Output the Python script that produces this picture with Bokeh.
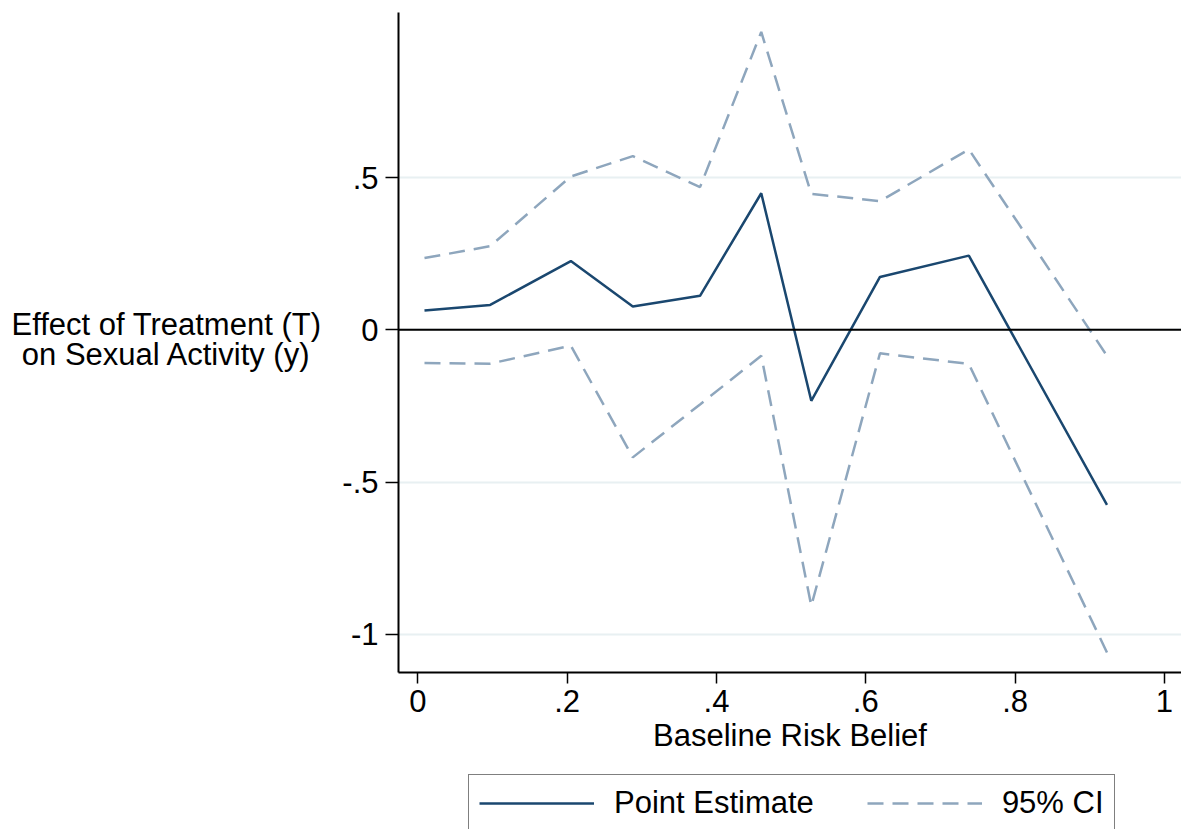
from bokeh.plotting import figure
from bokeh.layouts import row, column
from bokeh.models import Range1d, Span, Legend, LegendItem, FixedTicker, Label
from bokeh.embed import file_html
from bokeh.resources import INLINE

# Heterogeneous treatment effect by baseline risk belief
risk_belief = [0.009, 0.097, 0.205, 0.288, 0.378, 0.460, 0.527, 0.619, 0.738, 0.923]
point_estimate = [0.064, 0.082, 0.226, 0.077, 0.112, 0.449, -0.233, 0.174, 0.244, -0.575]
ci_upper = [0.236, 0.275, 0.504, 0.571, 0.469, 0.979, 0.447, 0.423, 0.593, -0.085]
ci_lower = [-0.109, -0.111, -0.052, -0.419, -0.245, -0.085, -0.907, -0.077, -0.112, -1.060]

x_ticks = [0, 0.2, 0.4, 0.6, 0.8, 1]
x_tick_labels = ["0", ".2", ".4", ".6", ".8", "1"]
y_ticks = [-1, -0.5, 0, 0.5]
y_tick_labels = ["-1", "-.5", "0", ".5"]
y_title = ["Effect of Treatment (T)", "on Sexual Activity (y)"]
x_title = "Baseline Risk Belief"
legend_labels = ["Point Estimate", "95% CI"]

FONT = "Liberation Sans"
FS = "31px"
EST_COLOR = "#1a476f"
CI_COLOR = "#8ea6bd"
CI_DASH = "16 9"
TITLE_W = 320      # width of the strip holding the y title
MAIN_H = 770       # height of the chart row; the key sits below it


def bare_figure(width, height):
    f = figure(width=width, height=height, x_range=Range1d(0, 1), y_range=Range1d(0, 1),
               x_axis_type=None, y_axis_type=None, output_backend="svg",
               toolbar_location=None, min_border=0)
    f.outline_line_color = None
    f.xgrid.grid_line_color = None
    f.ygrid.grid_line_color = None
    f.background_fill_color = "white"
    f.border_fill_color = "white"
    return f


# ---- main chart ----
p = figure(
    width=1181 - TITLE_W, height=MAIN_H,
    x_range=Range1d(-0.0258, 1.0228),
    y_range=Range1d(-1.126, 1.043),
    output_backend="svg", toolbar_location=None,
    min_border_left=398 - TITLE_W, min_border_right=0,
    min_border_top=12, min_border_bottom=MAIN_H - 672,
)
p.background_fill_color = "white"
p.border_fill_color = "white"
p.outline_line_color = None

p.xaxis.ticker = FixedTicker(ticks=x_ticks)
p.xaxis.major_label_overrides = {t: s for t, s in zip(x_ticks, x_tick_labels)}
p.yaxis.ticker = FixedTicker(ticks=y_ticks)
p.yaxis.major_label_overrides = {t: s for t, s in zip(y_ticks, y_tick_labels)}
for ax in (p.xaxis[0], p.yaxis[0]):
    ax.axis_line_color = "black"
    ax.axis_line_width = 2
    ax.major_tick_line_color = "black"
    ax.major_tick_line_width = 1.5
    ax.major_tick_in = 0
    ax.minor_tick_line_color = None
    ax.major_label_text_font = FONT
    ax.major_label_text_font_size = FS
    ax.major_label_text_color = "black"
p.xaxis.major_tick_out = 11
p.yaxis.major_tick_out = 13
p.xaxis.major_label_standoff = 6
p.yaxis.major_label_standoff = 7
p.xaxis.axis_label = x_title
p.xaxis.axis_label_text_font = FONT
p.xaxis.axis_label_text_font_size = FS
p.xaxis.axis_label_text_font_style = "normal"
p.xaxis.axis_label_text_color = "black"
p.xaxis.axis_label_standoff = 3

p.xgrid.grid_line_color = None
p.ygrid.grid_line_color = "#e8f0f2"
p.ygrid.grid_line_width = 2

p.add_layout(Span(location=0, dimension="width", line_color="black", line_width=2))

p.line(risk_belief, ci_upper, line_color=CI_COLOR, line_width=2.5, line_dash=CI_DASH)
p.line(risk_belief, ci_lower, line_color=CI_COLOR, line_width=2.5, line_dash=CI_DASH)
p.line(risk_belief, point_estimate, line_color=EST_COLOR, line_width=2.5)

# ---- y title, horizontal on two lines ----
title_fig = bare_figure(TITLE_W, MAIN_H)
for text, base in zip(y_title, [348, 318]):
    title_fig.add_layout(Label(x=166, y=base, x_units="screen", y_units="screen", text=text,
                               text_font=FONT, text_font_size=FS, text_color="black",
                               text_align="center", text_baseline="alphabetic"))

# ---- key ----
key_fig = bare_figure(1181, 829 - MAIN_H)
# one-point sources: nothing is drawn in the strip itself, only the key swatches
key_est = key_fig.line([0.5], [0.5], line_color=EST_COLOR, line_width=2.5)
key_ci = key_fig.line([0.5], [0.5], line_color=CI_COLOR, line_width=2.5, line_dash=CI_DASH)
legend = Legend(
    items=[LegendItem(label=legend_labels[0], renderers=[key_est]),
           LegendItem(label=legend_labels[1], renderers=[key_ci])],
    orientation="horizontal",
    location=(468, -3),
    label_text_font=FONT, label_text_font_size=FS, label_text_color="black",
    glyph_width=115, glyph_height=32, label_standoff=20, spacing=53,
    padding=10, margin=0,
    border_line_color="black", border_line_width=1.5,
    background_fill_color="white", background_fill_alpha=1,
)
key_fig.add_layout(legend, "center")

layout = column(row(title_fig, p), key_fig)
open("out.html", "w").write(file_html(layout, INLINE))
